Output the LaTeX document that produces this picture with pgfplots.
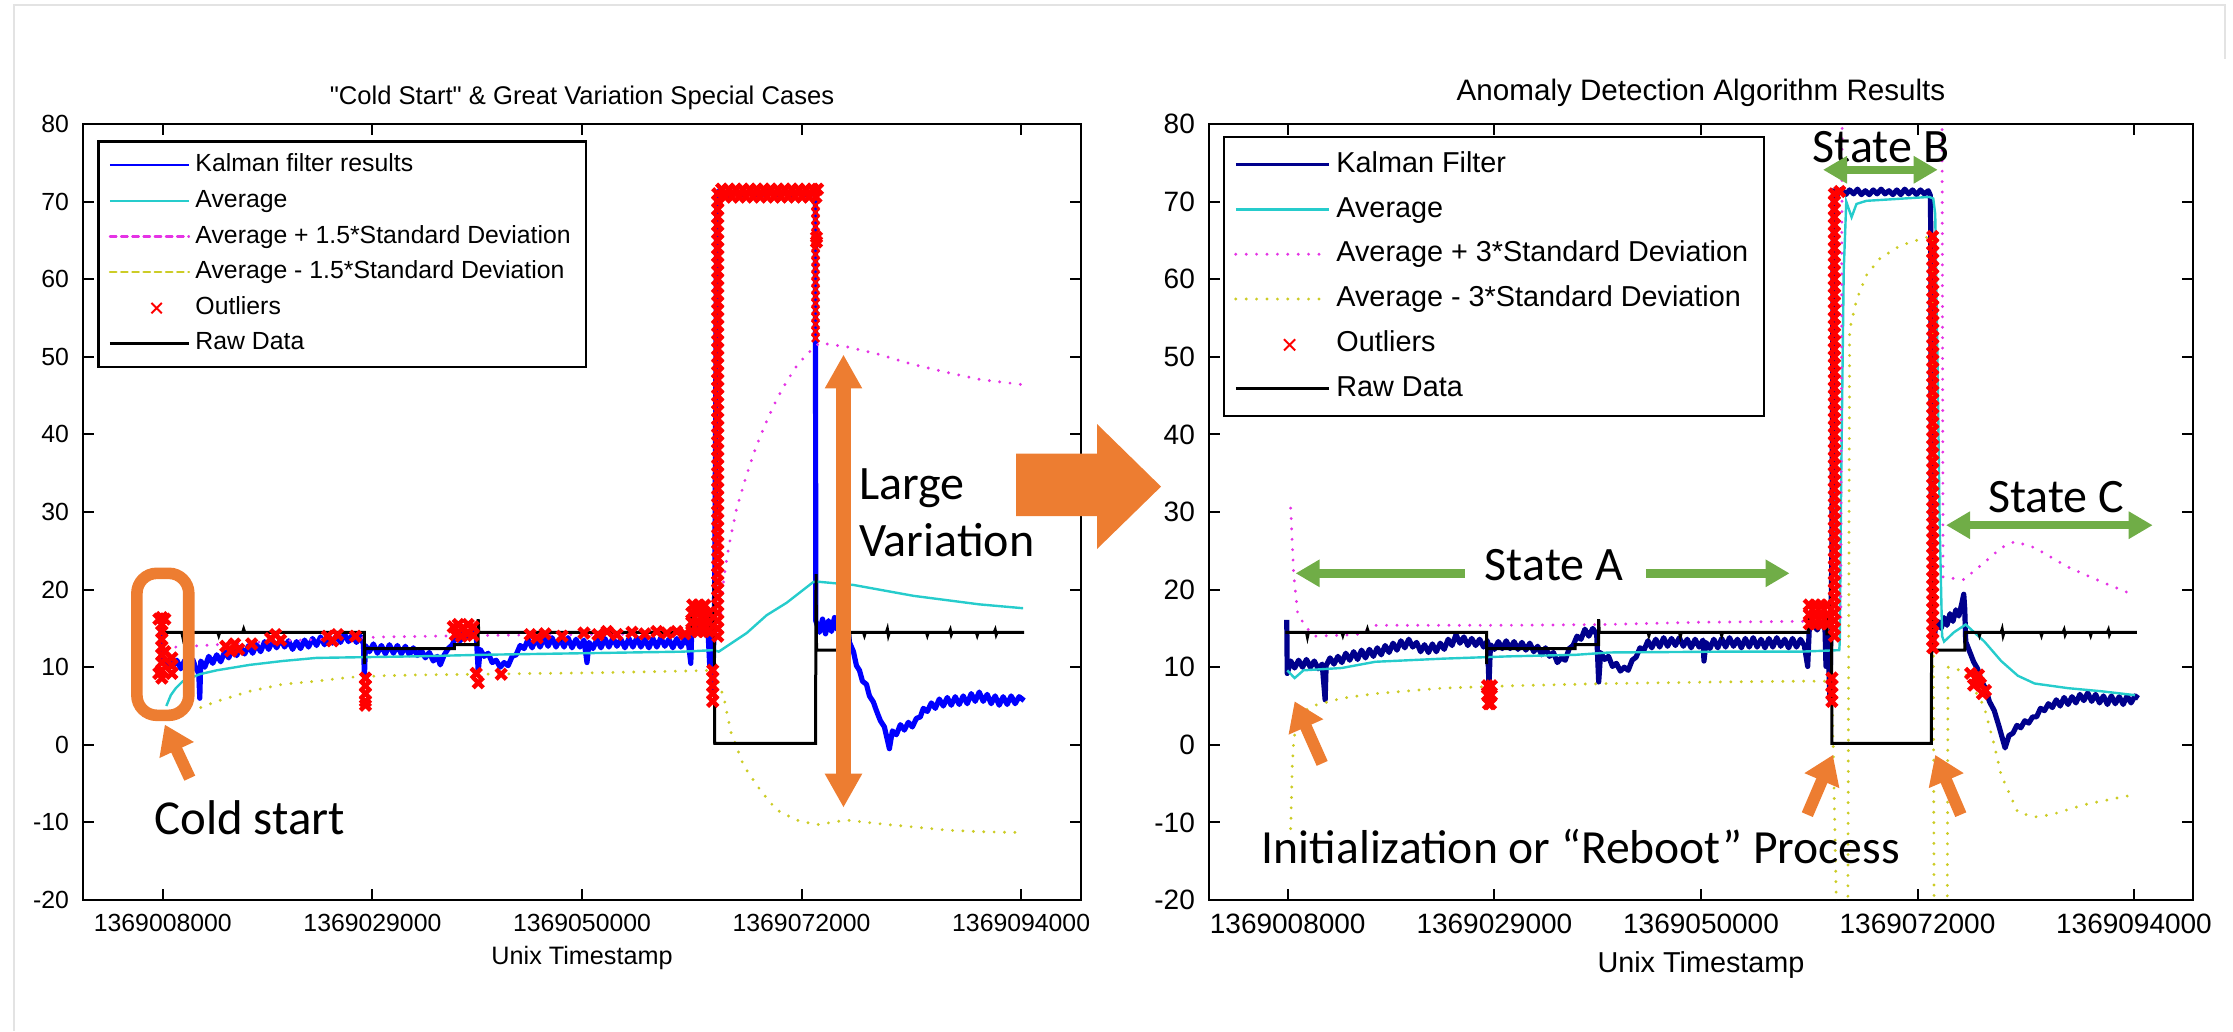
\documentclass[border=0pt]{standalone}
\usepackage{pgfplots}
\usepackage{pgfplotstable}
\pgfplotsset{compat=1.18}
\usepackage{fontspec}
\setmainfont{Liberation Sans}
\newfontfamily\calibri{Carlito}
\usetikzlibrary{arrows.meta}
\definecolor{mblue}{rgb}{0,0,1}
\definecolor{mnavy}{rgb}{0,0,0.55}
\definecolor{mcyan}{rgb}{0.15,0.8,0.8}
\definecolor{mmag}{rgb}{0.9,0.2,0.9}
\definecolor{myel}{rgb}{0.8,0.8,0.15}
\definecolor{morange}{HTML}{ED7D31}
\definecolor{mgreen}{HTML}{70AD47}

% x = (Unix timestamp - 1369000000)/1000
\pgfplotstableread{
x y
7.75 14.5
9.9 14.5
10.0 13.9
10.1 14.5
13.5 14.5
13.6 14.1
13.7 14.5
16.0 14.5
16.1 14.9
16.2 14.5
28.2 14.5
28.2 10.4
28.25 12.4
37.2 12.4
37.2 12.9
39.6 12.9
39.6 16.2
39.65 14.5
44.6 14.5
44.7 14.1
44.8 14.5
47.8 14.5
47.9 14.0
48.0 14.5
52.0 14.5
52.1 14.1
52.2 14.5
60.9 14.5
60.9 16.6
62.8 16.6
62.8 14.3
63.2 14.3
63.25 21
63.3 0.2
73.4 0.2
73.45 22
73.5 12.2
76.8 12.2
76.85 14.5
78.2 14.5
78.3 14.1
78.4 14.5
80.5 14.5
80.6 14.9
80.7 14.1
80.8 14.5
84.5 14.5
84.6 14.1
84.7 14.5
86.8 14.5
86.9 14.8
87.0 14.2
87.1 14.5
89.5 14.5
89.6 14.1
89.7 14.5
91.3 14.5
91.4 14.8
91.5 14.2
91.6 14.5
94.3 14.5
}\rawdata

\pgfplotstableread{
x y
7.8 15.5
7.9 11.5
8.3 10.2
8.7 11.0
9.0 10.1
9.4 10.9
9.8 9.8
10.2 10.9
10.6 9.7
11.0 11.0
11.3 9.9
11.6 9.2
11.7 6.0
11.8 10.8
12.2 10.0
12.6 11.4
13.0 10.5
13.4 11.6
13.8 10.7
14.2 12.0
14.6 11.2
15.0 12.4
15.4 11.5
15.8 12.6
16.2 11.7
16.6 12.8
17.0 11.8
17.4 12.9
17.8 12.0
18.2 13.3
18.6 12.3
19.0 13.4
19.4 12.5
19.8 13.6
20.2 12.6
20.6 13.4
21.0 12.3
21.4 13.3
21.8 12.4
22.2 13.5
22.6 12.6
23.0 13.7
23.4 12.8
23.8 13.9
24.2 12.9
24.6 14.0
25.0 13.1
25.4 14.1
25.8 13.2
26.2 14.3
26.6 13.3
27.0 14.2
27.4 13.2
27.8 14.0
28.1 13.0
28.2 8.9
28.3 12.8
28.7 12.0
29.1 13.0
29.5 11.8
29.9 12.8
30.3 11.7
30.7 12.9
31.1 11.8
31.5 12.8
31.9 11.7
32.3 12.7
32.7 11.6
33.1 12.5
33.5 11.5
33.9 12.2
34.3 11.2
34.7 11.9
35.1 10.8
35.5 11.4
35.8 10.3
36.2 11.6
36.6 12.4
37.0 12.9
37.4 13.9
37.8 13.4
38.2 14.6
38.6 13.9
39.0 14.8
39.4 14.2
39.6 9.5
39.8 12.3
40.2 11.4
40.6 11.8
41.0 10.6
41.4 10.9
41.8 10.0
42.2 10.6
42.6 10.2
43.0 11.4
43.4 11.6
43.8 12.8
44.2 12.4
44.6 13.6
45.0 12.5
45.4 13.7
45.8 12.6
46.2 13.8
46.6 12.7
47.0 13.8
47.4 12.6
47.8 13.7
48.2 12.6
48.6 13.8
49.0 12.5
49.4 13.6
49.8 12.6
50.2 13.5
50.5 10.6
50.7 13.2
51.1 12.4
51.5 13.6
51.9 12.5
52.3 13.7
52.7 12.6
53.1 13.8
53.5 12.7
53.9 13.6
54.3 12.5
54.7 13.7
55.1 12.6
55.5 13.8
55.9 12.6
56.3 13.6
56.7 12.5
57.1 13.7
57.5 12.6
57.9 13.8
58.3 12.7
58.7 13.6
59.1 12.5
59.5 13.7
59.9 12.6
60.3 13.6
60.7 12.8
60.9 10.5
61.0 15.0
61.4 16.0
61.8 15.1
62.2 16.1
62.6 15.2
62.8 10.2
63.0 13.0
63.1 7.0
63.3 20
63.4 45
63.5 71.0
63.9 71.6
64.6 70.7
65.4 71.4
66.2 70.8
67.0 71.3
67.8 70.7
68.6 71.4
69.4 70.8
70.2 71.3
71.0 70.7
71.8 71.3
72.6 70.8
73.3 71.2
73.38 70.5
73.4 52
73.42 16.0
73.8 14.5
74.1 16.2
74.4 14.3
74.7 16.0
75.0 14.6
75.3 16.4
75.6 14.8
75.9 16.2
76.2 14.6
76.5 16.4
76.8 13.2
77.2 12.0
77.5 10.2
77.8 9.6
78.1 8.2
78.5 7.8
78.8 6.3
79.2 5.5
79.5 4.4
79.9 3.1
80.3 2.3
80.8 -0.5
81.1 1.8
81.5 1.3
81.9 2.6
82.3 1.9
82.7 2.9
83.1 2.3
83.5 3.4
83.9 3.6
84.2 4.7
84.6 4.3
85.0 5.4
85.4 4.7
85.8 5.9
86.2 5.0
86.6 6.1
87.0 5.1
87.4 6.2
87.8 5.2
88.2 6.3
88.6 5.3
89.0 6.6
89.4 5.6
89.8 6.8
90.2 5.6
90.6 6.5
91.0 5.3
91.4 6.3
91.8 5.1
92.2 6.2
92.6 5.2
93.0 6.3
93.4 5.3
93.8 6.2
94.3 5.7
}\kalmanL

\pgfplotstableread{
x y
7.9 16.1
7.95 9.2
8.3 10.8
8.7 9.9
9.1 10.9
9.5 10.0
9.9 11.0
10.3 10.0
10.7 10.8
11.1 9.8
11.5 10.4
11.8 5.8
11.9 10.2
12.3 11.2
12.7 10.4
13.1 11.4
13.5 10.6
13.9 11.8
14.3 10.9
14.7 12.0
15.1 11.0
15.5 12.2
15.9 11.2
16.3 12.3
16.7 11.4
17.1 12.5
17.5 11.6
17.9 12.8
18.3 11.9
18.7 13.1
19.1 12.2
19.5 13.4
19.9 12.5
20.3 13.6
20.7 12.6
21.1 13.2
21.5 12.0
21.9 12.9
22.3 11.9
22.7 13.0
23.1 12.0
23.5 13.1
23.9 12.3
24.3 13.6
24.7 12.8
25.1 14.2
25.5 13.1
25.9 13.9
26.3 12.8
26.7 13.7
27.1 12.8
27.5 13.6
27.9 12.6
28.3 13.4
28.45 7.7
28.6 12.9
29.0 12.3
29.4 13.3
29.8 12.4
30.2 13.4
30.6 12.4
31.0 13.3
31.4 12.3
31.8 13.2
32.2 12.2
32.6 13.1
33.0 12.0
33.4 12.7
33.8 11.6
34.2 12.5
34.6 11.4
35.0 11.9
35.4 10.6
35.8 11.2
36.2 10.9
36.6 12.4
37.0 12.8
37.4 14.0
37.8 13.6
38.2 14.9
38.6 14.0
39.0 15.0
39.4 14.2
39.6 8.1
39.8 11.9
40.2 11.0
40.6 11.4
41.0 10.1
41.4 10.5
41.8 9.5
42.2 10.0
42.6 9.6
43.0 10.9
43.4 11.3
43.8 12.5
44.2 12.2
44.6 13.4
45.0 12.5
45.4 13.6
45.8 12.6
46.2 13.8
46.6 12.7
47.0 13.7
47.4 12.8
47.8 13.8
48.2 12.7
48.6 13.6
49.0 12.5
49.4 13.6
49.8 12.6
50.2 13.5
50.3 10.8
50.5 13.2
50.9 12.4
51.3 13.6
51.7 12.5
52.1 13.7
52.5 12.6
52.9 13.8
53.3 12.7
53.7 13.6
54.1 12.5
54.5 13.7
54.9 12.6
55.3 13.8
55.7 12.6
56.1 13.6
56.5 12.5
56.9 13.7
57.3 12.6
57.7 13.8
58.1 12.7
58.5 13.6
58.9 12.5
59.3 13.7
59.7 12.6
60.1 13.6
60.5 12.8
60.84 10.1
61.0 15.0
61.4 15.7
61.8 14.8
62.2 15.8
62.6 14.9
62.7 10.1
62.9 13.5
63.1 5.8
63.3 25
63.45 71.4
63.9 71.0
64.3 71.6
64.7 70.9
65.1 71.5
65.5 71.0
65.9 71.6
66.3 70.9
66.7 71.4
67.1 70.9
67.5 71.5
67.9 71.0
68.3 71.6
68.7 71.0
69.1 71.4
69.5 70.9
69.9 71.5
70.3 70.9
70.7 71.6
71.1 71.0
71.5 71.5
71.9 70.9
72.3 71.5
72.7 71.0
73.1 71.4
73.3 70.8
73.35 66
73.4 30
73.5 12.2
73.8 14.8
74.1 15.9
74.4 15.0
74.7 16.4
75.0 15.4
75.3 16.9
75.6 15.9
75.9 17.4
76.2 16.6
76.5 18.2
76.7 19.4
76.8 17.5
76.9 13.3
77.3 12.0
77.7 10.7
78.1 9.8
78.5 8.2
78.9 7.3
79.3 5.6
79.8 4.4
80.3 2.3
80.9 -0.4
81.3 1.2
81.7 1.5
82.1 2.5
82.5 2.2
82.9 3.1
83.3 2.8
83.7 3.6
84.1 3.6
84.5 4.7
84.9 4.4
85.3 5.3
85.7 4.8
86.1 5.8
86.5 5.0
86.9 6.1
87.3 5.2
87.7 6.2
88.1 5.4
88.5 6.5
88.9 5.7
89.3 6.7
89.7 5.6
90.1 6.5
90.5 5.4
90.9 6.3
91.3 5.2
91.7 6.3
92.1 5.3
92.5 6.2
92.9 5.2
93.3 6.3
93.7 5.4
94.1 6.3
94.45 6.0
}\kalmanR

\pgfplotsset{
  mstyle/.style={
    scale only axis,
    xmin=0, xmax=100, ymin=-20, ymax=80,
    xtick={8,29,50,72,94},
    xticklabels={1369008000,1369029000,1369050000,1369072000,1369094000},
    ytick={-20,-10,0,10,20,30,40,50,60,70,80},
    tick align=inside,
    major tick length=2.7pt,
    axis line style={line width=0.6pt},
    every tick/.style={black,line width=0.5pt},
    /pgf/number format/assume math mode=true,
    xlabel={Unix Timestamp},
    legend cell align=left,
  },
  limgL/.style={legend image code/.code={\draw[##1] (0pt,0pt) -- (19.75pt,0pt);}},
  limgR/.style={legend image code/.code={\draw[##1] (0pt,0pt) -- (23.25pt,0pt);}},
  kallegL/.style={legend image code/.code={\draw[##1,line width=0.6pt] (0pt,0pt) -- (19.75pt,0pt);}},
  kallegR/.style={legend image code/.code={\draw[##1,line width=0.6pt] (0pt,0pt) -- (23.25pt,0pt);}},
  dashlegL/.style={legend image code/.code={\draw[##1,line width=0.6pt,dash pattern=on 1.6pt off 1.2pt] (0pt,0pt) -- (19.75pt,0pt);}},
  outlegL/.style={legend image code/.code={\path[draw=none,fill=none] (0pt,0pt) rectangle (19.75pt,0.1pt); \path[draw=none,fill=none] (9.9pt,0pt) node[inner sep=0pt] {\tikz\draw[red,line width=0.5pt] (-1.3pt,-1.3pt) -- (1.3pt,1.3pt) (-1.3pt,1.3pt) -- (1.3pt,-1.3pt);};}},
  outlegR/.style={legend image code/.code={\path[draw=none,fill=none] (0pt,0pt) rectangle (23.25pt,0.1pt); \path[draw=none,fill=none] (11.6pt,0pt) node[inner sep=0pt] {\tikz\draw[red,line width=0.5pt] (-1.4pt,-1.4pt) -- (1.4pt,1.4pt) (-1.4pt,1.4pt) -- (1.4pt,-1.4pt);};}},
  dotline/.style={line width=0.8pt, line cap=round, dash pattern=on 0pt off 2.6pt},
  outl/.style={only marks, mark=x, color=red, mark size=1.8pt, mark options={line width=1.1pt}},
  kal/.style={line width=1.3pt, line join=round},
}

\begin{document}
\begin{tikzpicture}
\path[use as bounding box] (0,0) rectangle (558.25pt,257.75pt);
\draw[gray!22,line width=0.6pt] (3.5pt,0pt) -- (3.5pt,256.5pt) -- (556.25pt,256.5pt) -- (556.25pt,243pt);

%================ LEFT =================
\begin{axis}[mstyle, limgL,
  at={(20.75pt,32.75pt)}, anchor=south west,
  width=249.5pt, height=194pt,
  title={\textquotedbl Cold Start\textquotedbl{} \& Great Variation Special Cases},
  title style={font=\fontsize{6.4}{7.7}\selectfont, yshift=-6.1pt},
  tick label style={font=\fontsize{6.2}{7.4}\selectfont},
  label style={font=\fontsize{6.3}{7.6}\selectfont},
  xlabel style={yshift=3.2pt},
  legend style={at={(0.0143,0.979)}, anchor=north west,
    font=\fontsize{6.2}{7.4}\selectfont, draw=black, line width=0.6pt,
    inner xsep=2.5pt, inner ysep=1.5pt, row sep=0pt,
    nodes={inner xsep=1.25pt, inner ysep=1.6pt, text height=4.5pt, text depth=1.2pt}},
]
\addplot[mblue, kal, kallegL] table {\kalmanL};
\addlegendentry{Kalman filter results}
\addplot[mcyan, line width=0.6pt] table {
x y
8.35 5.0
8.8 6.4
9.3 7.3
10.0 8.2
11.7 9.1
13.4 9.6
16.7 10.3
20.0 10.8
23.4 11.2
28.4 11.3
33.4 11.4
40.0 11.6
50.0 11.8
55.0 11.9
60.0 12.0
63.2 12.2
63.7 12.0
66.5 14.4
68.5 16.7
70.5 18.3
73.2 21.0
73.8 21.0
77.2 20.6
83.2 19.2
89.8 18.1
94.2 17.6
};
\addlegendentry{Average}
\addplot[mmag, dotline, dashlegL] table {
x y
9.3 12.6
13.4 12.9
20.0 13.4
30.0 13.9
40.0 14.1
50.0 14.2
60.0 14.3
63.5 14.4
63.9 17.0
64.2 21.4
64.7 25.5
65.5 30.5
66.5 34.8
67.5 38.6
68.5 41.7
69.5 44.5
70.5 46.8
71.5 48.8
72.5 50.3
73.8 51.8
76.5 51.3
79.8 50.3
83.2 49.0
86.5 48.0
89.8 47.1
94.2 46.4
};
\addlegendentry{Average + 1.5*Standard Deviation}
\addplot[myel, dotline, dashlegL] table {
x y
11.8 4.8
13.4 5.6
16.7 6.9
20.0 7.8
23.4 8.2
26.7 8.7
30.0 8.9
33.4 9.0
40.0 9.1
52.0 9.3
60.0 9.5
63.3 9.6
63.8 7.5
64.2 6.2
64.9 1.7
66.2 -2.7
67.9 -5.9
69.5 -8.4
71.5 -9.7
73.5 -10.3
75.0 -10.0
76.5 -9.7
80.0 -10.2
83.3 -10.6
86.6 -11.0
90.0 -11.2
94.0 -11.3
};
\addlegendentry{Average - 1.5*Standard Deviation}
\addplot[outl, outlegL] coordinates {
(7.9,8.6)(7.9,9.6)(7.9,10.6)(7.9,11.6)(7.9,12.6)(7.9,13.6)(7.9,14.6)(7.9,15.5)(7.9,16.4)(7.6,16.2)(8.2,16.2)(7.6,9.2)(8.2,12.0)
(8.9,9.2)(8.9,10.2)(8.9,11.2)
(14.3,12.7)(14.8,12.1)(15.2,13.0)(15.6,12.3)(16.9,13.0)(18.8,13.7)(19.3,14.2)(19.8,13.5)
(24.5,14.0)(25.0,13.4)(25.5,14.2)(27.3,14.0)
(28.3,8.6)(28.3,7.6)(28.3,6.6)(28.3,5.6)(28.3,5.1)
(37.1,15.2)(37.6,15.5)(38.1,15.1)(38.6,15.5)(39.1,15.2)(37.3,14.2)(37.9,14.0)(38.5,14.3)(39.1,14.1)
(39.4,9.2)(39.6,8.0)(41.9,9.1)
(44.8,14.2)(45.5,13.8)(46.3,14.3)(48.0,14.0)(50.2,14.4)(51.6,14.2)(52.5,14.6)(53.5,14.2)
(55.0,14.5)(56.3,14.3)(57.5,14.6)(58.5,14.4)(59.5,14.6)(60.3,14.3)
(61.0,14.6)(61.6,14.6)(62.2,14.6)(62.7,14.6)(61.0,15.8)(61.6,15.8)(62.2,15.8)(62.7,15.8)
(61.0,17.0)(61.6,17.0)(62.2,17.0)(62.7,17.0)(61.1,18.0)(61.7,18.0)(62.3,18.0)
(63.1,9.6)(63.1,8.6)(63.1,7.6)(63.1,6.6)(63.1,5.6)
(63.6,14)(63.6,15)(63.6,16)(63.6,17)(63.6,18)(63.6,19)(63.6,20)(63.6,21)(63.6,22)(63.6,23)
(63.6,24)(63.6,25)(63.6,26)(63.6,27)(63.6,28)(63.6,29)(63.6,30)(63.6,31)(63.6,32)(63.6,33)
(63.6,34)(63.6,35)(63.6,36)(63.6,37)(63.6,38)(63.6,39)(63.6,40)(63.6,41)(63.6,42)(63.6,43)
(63.6,44)(63.6,45)(63.6,46)(63.6,47)(63.6,48)(63.6,49)(63.6,50)(63.6,51)(63.6,52)(63.6,53)
(63.6,54)(63.6,55)(63.6,56)(63.6,57)(63.6,58)(63.6,59)(63.6,60)(63.6,61)(63.6,62)(63.6,63)
(63.6,64)(63.6,65)(63.6,66)(63.6,67)(63.6,68)(63.6,69)(63.6,70)(63.6,71)
(64.0,71.6)(64.7,71.6)(65.4,71.6)(66.1,71.6)(66.8,71.6)(67.5,71.6)(68.2,71.6)(68.9,71.6)
(69.6,71.6)(70.3,71.6)(71.0,71.6)(71.7,71.6)(72.4,71.6)(73.1,71.6)(73.6,71.6)
(64.35,70.6)(65.05,70.6)(65.75,70.6)(66.45,70.6)(67.15,70.6)(67.85,70.6)(68.55,70.6)
(69.25,70.6)(69.95,70.6)(70.65,70.6)(71.35,70.6)(72.05,70.6)(72.75,70.6)(73.45,70.6)
(73.5,65.4)(73.5,64.8)
};
\addlegendentry{Outliers}
\addplot[outl, mark size=1.3pt, mark options={line width=0.6pt}, forget plot] coordinates {
(73.4,69.5)(73.4,68.6)(73.4,67.7)(73.4,66.8)(73.4,65.9)(73.4,65.0)(73.4,64.1)(73.4,63.2)
(73.4,62.3)(73.4,61.4)(73.4,60.5)(73.4,59.6)(73.4,58.7)(73.4,57.8)(73.4,56.9)(73.4,56.0)
(73.4,55.1)(73.4,54.2)(73.4,53.3)(73.4,52.4)
};
\addplot[black, line width=0.75pt] table {\rawdata};
\addlegendentry{Raw Data}

% annotations
\draw[morange, line width=2.9pt, rounded corners=5pt] (axis cs:5.4,22.1) rectangle (axis cs:10.6,3.8);
\draw[morange, line width=3pt, -{Triangle[width=9pt,length=7pt]}] (axis cs:10.7,-4.3) -- (axis cs:8.2,2.6);
\node[anchor=base, inner sep=0pt, font=\calibri\fontsize{12.2}{14}\selectfont] at (axis cs:16.7,-11.6) {Cold start};
\draw[morange, line width=3.9pt, {Triangle[width=8.75pt,length=8.5pt]}-{Triangle[width=8.75pt,length=8.5pt]}] (axis cs:76.2,-8.1) -- (axis cs:76.2,50.3);
\node[anchor=base west, inner sep=0pt, font=\calibri\fontsize{12}{14}\selectfont] at (axis cs:77.7,31.6) {Large};
\node[anchor=base west, inner sep=0pt, font=\calibri\fontsize{12}{14}\selectfont] at (axis cs:77.7,24.3) {Variation};
\end{axis}

%================ RIGHT =================
\begin{axis}[mstyle, limgR,
  at={(302.25pt,32.75pt)}, anchor=south west,
  width=246pt, height=194pt,
  title={Anomaly Detection Algorithm Results},
  title style={font=\fontsize{7.4}{8.9}\selectfont, yshift=-5.3pt},
  tick label style={font=\fontsize{7.0}{8.4}\selectfont},
  label style={font=\fontsize{7.2}{8.6}\selectfont},
  xlabel style={yshift=2.4pt},
  legend style={at={(0.0142,0.9845)}, anchor=north west,
    font=\fontsize{7.2}{8.6}\selectfont, draw=black, line width=0.6pt,
    inner xsep=2.5pt, inner ysep=1.25pt, row sep=0pt,
    nodes={inner xsep=1.5pt, inner ysep=2.3pt, text height=5.2pt, text depth=1.4pt}},
]
\addplot[mnavy, kal, kallegR] table {\kalmanR};
\addlegendentry{Kalman Filter}
\addplot[mcyan, line width=0.6pt] table {
x y
7.95 9.6
8.7 8.6
9.6 9.6
13.5 9.9
16.9 10.7
23.7 11.1
30.5 11.4
37.3 11.6
40.7 11.9
51.8 12.0
60.0 12.0
64.05 12.2
64.1 13.3
64.25 35.0
64.5 61.0
64.76 70.0
65.3 68.0
65.8 69.7
66.8 70.1
73.2 70.6
73.6 70.4
73.8 68.4
74.05 47.7
74.25 28.6
74.5 14.0
74.7 13.3
75.7 14.5
76.9 15.5
78.8 13.3
80.5 10.8
82.2 8.9
83.9 7.9
87.3 7.3
90.7 6.9
94.1 6.4
};
\addlegendentry{Average}
\addplot[mmag, dotline] table {
x y
8.3 30.5
8.6 22.0
9.0 17.0
9.8 15.2
10.8 14.0
15.0 14.2
17.0 15.4
30.0 15.4
40.0 15.5
50.0 15.8
60.0 15.9
64.2 16.0
64.45 130
74.4 130
74.6 21.6
76.7 21.3
78.8 23.5
80.5 25.4
81.9 26.2
83.9 25.4
87.3 22.9
90.7 21.0
93.8 19.4
};
\addlegendentry{Average + 3*Standard Deviation}
\addplot[myel, dotline] table {
x y
8.3 -10.8
8.45 -3.2
8.6 0.6
9.1 4.0
10.8 5.1
13.5 6.0
16.9 6.6
23.7 7.3
30.5 7.6
40.7 7.9
51.8 8.1
60.0 8.2
63.3 8.2
63.9 -30
64.9 -30
65.1 53.5
65.8 57.3
66.8 60.5
68.2 62.7
70.2 64.3
71.9 65.0
73.5 65.6
73.7 -30
75.0 -30
75.1 10.0
76.7 9.5
78.75 5.0
79.8 0.0
80.5 -3.9
82.2 -8.7
83.9 -9.3
85.6 -9.0
89.0 -7.7
94.1 -6.4
};
\addlegendentry{Average - 3*Standard Deviation}
\addplot[outl, outlegR] coordinates {
(28.3,7.6)(28.7,7.6)(28.3,6.4)(28.7,6.4)(28.4,5.3)(28.6,5.3)
(61.0,15.6)(61.6,15.6)(62.2,15.6)(62.8,15.6)(61.0,16.8)(61.6,16.8)(62.2,16.8)(62.8,16.8)
(61.0,18.0)(61.6,18.0)(62.2,18.0)(62.8,18.0)
(63.3,8.6)(63.3,7.6)(63.3,6.6)(63.3,5.6)
(63.55,14)(63.55,15)(63.55,16)(63.55,17)(63.55,18)(63.55,19)(63.55,20)(63.55,21)(63.55,22)(63.55,23)
(63.55,24)(63.55,25)(63.55,26)(63.55,27)(63.55,28)(63.55,29)(63.55,30)(63.55,31)(63.55,32)(63.55,33)
(63.55,34)(63.55,35)(63.55,36)(63.55,37)(63.55,38)(63.55,39)(63.55,40)(63.55,41)(63.55,42)(63.55,43)
(63.55,44)(63.55,45)(63.55,46)(63.55,47)(63.55,48)(63.55,49)(63.55,50)(63.55,51)(63.55,52)(63.55,53)
(63.55,54)(63.55,55)(63.55,56)(63.55,57)(63.55,58)(63.55,59)(63.55,60)(63.55,61)(63.55,62)(63.55,63)
(63.55,64)(63.55,65)(63.55,66)(63.55,67)(63.55,68)(63.55,69)(63.55,70)(63.55,71)(64.1,71.3)
(73.55,12.5)(73.55,13.5)(73.55,14.5)(73.55,15.5)(73.55,16.5)(73.55,17.5)(73.55,18.5)(73.55,19.5)
(73.55,20.5)(73.55,21.5)(73.55,22.5)(73.55,23.5)(73.55,24.5)(73.55,25.5)(73.55,26.5)(73.55,27.5)
(73.55,28.5)(73.55,29.5)(73.55,30.5)(73.55,31.5)(73.55,32.5)(73.55,33.5)(73.55,34.5)(73.55,35.5)
(73.55,36.5)(73.55,37.5)(73.55,38.5)(73.55,39.5)(73.55,40.5)(73.55,41.5)(73.55,42.5)(73.55,43.5)
(73.55,44.5)(73.55,45.5)(73.55,46.5)(73.55,47.5)(73.55,48.5)(73.55,49.5)(73.55,50.5)(73.55,51.5)
(73.55,52.5)(73.55,53.5)(73.55,54.5)(73.55,55.5)(73.55,56.5)(73.55,57.5)(73.55,58.5)(73.55,59.5)
(73.55,60.5)(73.55,61.5)(73.55,62.5)(73.55,63.5)(73.55,64.5)(73.55,65.5)
(77.4,9.2)(77.9,8.6)(78.4,7.8)(78.9,7.0)(78.2,9.0)(77.7,7.7)(78.6,6.6)
};
\addlegendentry{Outliers}
\addplot[black, line width=0.75pt] table {\rawdata};
\addlegendentry{Raw Data}

% annotations
\node[anchor=base, inner sep=0pt, font=\calibri\fontsize{12}{14}\selectfont] at (axis cs:35.06,21.2) {State A};
\draw[mgreen, line width=2.1pt, -{Triangle[width=6.5pt,length=6pt]}] (axis cs:26,22.1) -- (axis cs:8.8,22.1);
\draw[mgreen, line width=2.1pt, -{Triangle[width=6.5pt,length=6pt]}] (axis cs:44.4,22.1) -- (axis cs:59,22.1);
\node[anchor=base, inner sep=0pt, font=\calibri\fontsize{12}{14}\selectfont] at (axis cs:68.3,75.1) {State B};
\draw[mgreen, line width=2.1pt, {Triangle[width=6.5pt,length=6pt]}-{Triangle[width=6.5pt,length=6pt]}] (axis cs:62.4,74.1) -- (axis cs:74.05,74.1);
\node[anchor=base, inner sep=0pt, font=\calibri\fontsize{12}{14}\selectfont] at (axis cs:86.1,30.0) {State C};
\draw[mgreen, line width=2.1pt, {Triangle[width=6.5pt,length=6pt]}-{Triangle[width=6.5pt,length=6pt]}] (axis cs:74.9,28.3) -- (axis cs:95.9,28.3);
\draw[morange, line width=3pt, -{Triangle[width=9pt,length=7pt]}] (axis cs:11.5,-2.4) -- (axis cs:8.7,5.6);
\draw[morange, line width=3pt, -{Triangle[width=9pt,length=7pt]}] (axis cs:60.8,-9) -- (axis cs:63.4,-1.3);
\draw[morange, line width=3pt, -{Triangle[width=9pt,length=7pt]}] (axis cs:76.4,-9) -- (axis cs:73.8,-1.3);
\node[anchor=base, inner sep=0pt, font=\calibri\fontsize{11.9}{14}\selectfont] at (axis cs:37.8,-15.3) {Initialization or “Reboot” Process};
\end{axis}

% big arrow between the charts
\fill[morange] (254pt,128.75pt) -- (274.25pt,128.75pt) -- (274.25pt,120.5pt) -- (290.25pt,136.1pt) -- (274.25pt,151.75pt) -- (274.25pt,144.35pt) -- (254pt,144.35pt) -- cycle;
\end{tikzpicture}
\end{document}
